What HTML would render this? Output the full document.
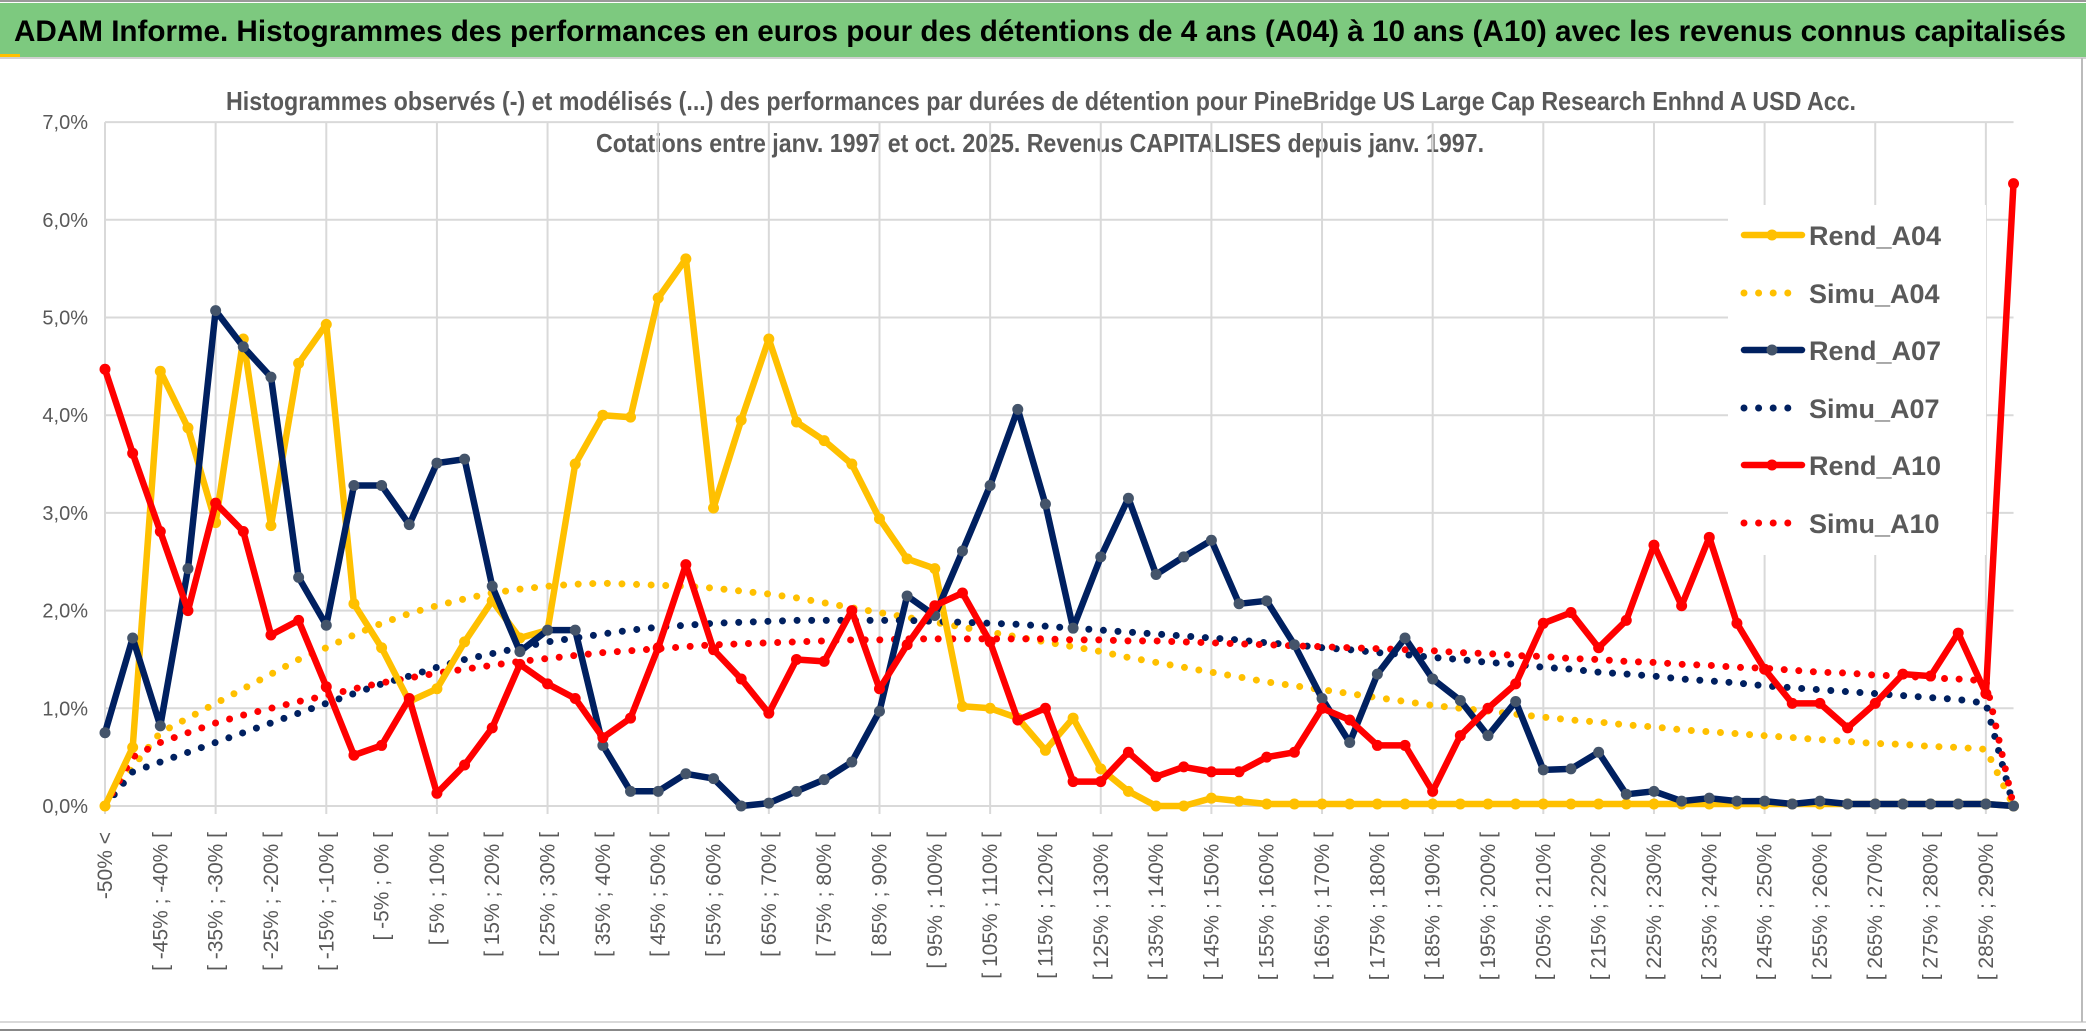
<!DOCTYPE html>
<html><head><meta charset="utf-8"><style>
html,body{margin:0;padding:0;background:#fff;}
svg{display:block;font-family:"Liberation Sans",sans-serif;}
</style></head><body>
<svg id="chart" width="2086" height="1033" viewBox="0 0 2086 1033" xmlns="http://www.w3.org/2000/svg">
<rect x="0" y="0" width="2086" height="1033" fill="#fff"/>
<rect x="0" y="3" width="2086" height="54" fill="#7dc97f"/>
<line x1="0" y1="1" x2="2086" y2="1" stroke="#999" stroke-width="2"/>
<line x1="0" y1="58" x2="2086" y2="58" stroke="#d0d0d0" stroke-width="2"/>
<rect x="0" y="54" width="20" height="3" fill="#ffc000"/>
<text x="14" y="41" font-size="30" font-weight="bold" fill="#000" textLength="2052" lengthAdjust="spacingAndGlyphs">ADAM Informe. Histogrammes des performances en euros pour des détentions de 4 ans (A04) à 10 ans (A10) avec les revenus connus capitalisés</text>
<text x="226" y="110" font-size="26" font-weight="bold" fill="#595959" textLength="1630" lengthAdjust="spacingAndGlyphs">Histogrammes observés (-) et modélisés (...) des performances par durées de détention pour PineBridge US Large Cap Research Enhnd A USD Acc.</text>
<text x="596" y="152" font-size="26" font-weight="bold" fill="#595959" textLength="888" lengthAdjust="spacingAndGlyphs">Cotations entre janv. 1997 et oct. 2025. Revenus CAPITALISES depuis janv. 1997.</text>
<g id="grid"></g>
<g id="axes"></g>
<g id="series"></g>
<g id="legend"></g>
<line x1="0" y1="1022" x2="2086" y2="1022" stroke="#d9d9d9" stroke-width="2"/>
<line x1="0" y1="1030" x2="2086" y2="1030" stroke="#888" stroke-width="2"/>
<line x1="2082" y1="58" x2="2082" y2="1022" stroke="#bbb" stroke-width="2"/>
</svg>
<script>
const catLabels = ["-50% <","[ -50% ; -45% [","[ -45% ; -40% [","[ -40% ; -35% [","[ -35% ; -30% [","[ -30% ; -25% [","[ -25% ; -20% [","[ -20% ; -15% [","[ -15% ; -10% [","[ -10% ; -5% [","[ -5% ; 0% [","[ 0% ; 5% [","[ 5% ; 10% [","[ 10% ; 15% [","[ 15% ; 20% [","[ 20% ; 25% [","[ 25% ; 30% [","[ 30% ; 35% [","[ 35% ; 40% [","[ 40% ; 45% [","[ 45% ; 50% [","[ 50% ; 55% [","[ 55% ; 60% [","[ 60% ; 65% [","[ 65% ; 70% [","[ 70% ; 75% [","[ 75% ; 80% [","[ 80% ; 85% [","[ 85% ; 90% [","[ 90% ; 95% [","[ 95% ; 100% [","[ 100% ; 105% [","[ 105% ; 110% [","[ 110% ; 115% [","[ 115% ; 120% [","[ 120% ; 125% [","[ 125% ; 130% [","[ 130% ; 135% [","[ 135% ; 140% [","[ 140% ; 145% [","[ 145% ; 150% [","[ 150% ; 155% [","[ 155% ; 160% [","[ 160% ; 165% [","[ 165% ; 170% [","[ 170% ; 175% [","[ 175% ; 180% [","[ 180% ; 185% [","[ 185% ; 190% [","[ 190% ; 195% [","[ 195% ; 200% [","[ 200% ; 205% [","[ 205% ; 210% [","[ 210% ; 215% [","[ 215% ; 220% [","[ 220% ; 225% [","[ 225% ; 230% [","[ 230% ; 235% [","[ 235% ; 240% [","[ 240% ; 245% [","[ 245% ; 250% [","[ 250% ; 255% [","[ 255% ; 260% [","[ 260% ; 265% [","[ 265% ; 270% [","[ 270% ; 275% [","[ 275% ; 280% [","[ 280% ; 285% [","[ 285% ; 290% [","> 290%"];
const yTicks = [0,1,2,3,4,5,6,7];
const yTickLabels = ["0,0%","1,0%","2,0%","3,0%","4,0%","5,0%","6,0%","7,0%"];
const rendA04 = [0,0.6,4.45,3.87,2.9,4.78,2.87,4.53,4.93,2.07,1.62,1.07,1.2,1.68,2.1,1.72,1.8,3.5,4.0,3.98,5.2,5.6,3.05,3.95,4.78,3.93,3.74,3.5,2.94,2.53,2.43,1.02,1.0,0.9,0.57,0.9,0.38,0.15,0.0,0.0,0.08,0.05,0.02,0.02,0.02,0.02,0.02,0.02,0.02,0.02,0.02,0.02,0.02,0.02,0.02,0.02,0.02,0.02,0.02,0.02,0.02,0.02,0.02,0.02,0.02,0.02,0.02,0.02,0.02,0.0];
const simuA04 = [0,0.4,0.75,0.9,1.05,1.2,1.35,1.5,1.62,1.75,1.87,1.97,2.05,2.12,2.18,2.22,2.25,2.27,2.28,2.27,2.26,2.25,2.23,2.2,2.17,2.13,2.08,2.03,1.98,1.93,1.88,1.83,1.78,1.73,1.68,1.63,1.58,1.52,1.47,1.42,1.37,1.32,1.27,1.23,1.19,1.15,1.11,1.07,1.03,1.0,0.97,0.94,0.91,0.88,0.86,0.83,0.81,0.78,0.76,0.74,0.72,0.7,0.68,0.66,0.64,0.63,0.61,0.6,0.58,0.0];
const rendA07 = [0.75,1.72,0.82,2.43,5.07,4.7,4.39,2.34,1.85,3.28,3.28,2.88,3.51,3.55,2.25,1.58,1.8,1.8,0.62,0.15,0.15,0.33,0.28,0.0,0.03,0.15,0.27,0.45,0.97,2.15,1.95,2.61,3.28,4.06,3.09,1.82,2.55,3.15,2.37,2.55,2.72,2.07,2.1,1.65,1.1,0.65,1.35,1.72,1.3,1.08,0.72,1.07,0.37,0.38,0.55,0.12,0.15,0.05,0.08,0.05,0.05,0.02,0.05,0.02,0.02,0.02,0.02,0.02,0.02,0.0];
const simuA07 = [0,0.35,0.45,0.55,0.65,0.75,0.85,0.95,1.05,1.15,1.25,1.33,1.42,1.5,1.56,1.62,1.68,1.72,1.76,1.8,1.83,1.85,1.87,1.88,1.89,1.9,1.9,1.9,1.9,1.9,1.89,1.88,1.87,1.86,1.84,1.82,1.8,1.78,1.76,1.74,1.72,1.7,1.67,1.65,1.62,1.6,1.57,1.55,1.52,1.5,1.47,1.45,1.42,1.4,1.37,1.35,1.33,1.3,1.28,1.26,1.23,1.21,1.19,1.17,1.15,1.13,1.11,1.09,1.05,0];
const rendA10 = [4.47,3.61,2.81,2.0,3.1,2.81,1.75,1.9,1.22,0.52,0.62,1.1,0.13,0.42,0.8,1.45,1.25,1.1,0.7,0.9,1.62,2.47,1.6,1.3,0.95,1.5,1.48,2.0,1.2,1.65,2.05,2.18,1.68,0.88,1.0,0.25,0.25,0.55,0.3,0.4,0.35,0.35,0.5,0.55,1.0,0.88,0.62,0.62,0.15,0.72,1.0,1.25,1.87,1.98,1.62,1.9,2.67,2.05,2.75,1.87,1.4,1.05,1.05,0.8,1.05,1.35,1.33,1.77,1.15,6.37];
const simuA10 = [0,0.5,0.65,0.75,0.85,0.93,1.0,1.07,1.13,1.2,1.26,1.31,1.36,1.4,1.44,1.48,1.51,1.54,1.57,1.59,1.61,1.63,1.65,1.66,1.67,1.68,1.69,1.7,1.7,1.71,1.71,1.71,1.71,1.71,1.71,1.7,1.7,1.69,1.69,1.68,1.67,1.66,1.65,1.64,1.63,1.62,1.61,1.6,1.59,1.57,1.56,1.54,1.53,1.51,1.5,1.48,1.47,1.45,1.44,1.42,1.41,1.39,1.37,1.36,1.34,1.33,1.31,1.3,1.28,0];
const seriesNames = ["Rend_A04","Simu_A04","Rend_A07","Simu_A07","Rend_A10","Simu_A10"];

const NS="http://www.w3.org/2000/svg";
const X0=105, STEP=27.66, Y0=806, PER=97.7;
function xPos(i){return X0+i*STEP;}
function yPos(v){return Y0-v*PER;}
function mk(tag,attrs,parent){const e=document.createElementNS(NS,tag);for(const k in attrs)e.setAttribute(k,attrs[k]);parent.appendChild(e);return e;}
const grid=document.getElementById('grid'),axes=document.getElementById('axes'),ser=document.getElementById('series'),leg=document.getElementById('legend');
const nCat=catLabels.length;
const xEnd=xPos(nCat-1);
yTicks.forEach((t,k)=>{
  const l=mk('line',{x1:X0,x2:xEnd,y1:yPos(t),y2:yPos(t),stroke:'#d9d9d9','stroke-width':2},grid);
  
  
  const tx=mk('text',{x:88,y:yPos(t)+7,'font-size':20,fill:'#595959','text-anchor':'end'},axes);
  tx.textContent=yTickLabels[k];
  
  
});
for(let i=0;i<nCat;i+=4){
  const l=mk('line',{x1:xPos(i),x2:xPos(i),y1:yPos(7),y2:Y0+8,stroke:'#d9d9d9','stroke-width':2},grid);
  
  
}
for(let i=0;i<nCat;i+=2){
  const x=xPos(i)+7, y=832;
  const tx=mk('text',{x:x,y:y,'font-size':21,fill:'#595959','text-anchor':'end',transform:`rotate(-90 ${x} ${y})`},axes);
  tx.textContent=catLabels[i];
  
  
}
function pts(arr){return arr.map((v,i)=>xPos(i).toFixed(1)+','+yPos(v).toFixed(1)).join(' ');}
function dotted(arr,color,name){
  const p=mk('polyline',{points:pts(arr),fill:'none',stroke:color,'stroke-width':7,'stroke-linecap':'round','stroke-dasharray':'0 14.6'},ser);
  
  
}
function solid(arr,color,mcolor,name){
  const g=mk('g',{},ser);
  
  
  mk('polyline',{points:pts(arr),fill:'none',stroke:color,'stroke-width':6.5,'stroke-linejoin':'round'},g);
  arr.forEach((v,i)=>{
    const c=mk('circle',{cx:xPos(i),cy:yPos(v),r:5.5,fill:mcolor},g);
    
    
  });
}
dotted(simuA04,'#ffc000','simu-a04-line');
dotted(simuA07,'#002060','simu-a07-line');
dotted(simuA10,'#ff0000','simu-a10-line');
solid(rendA04,'#ffc000','#ffc000','rend-a04-line');
solid(rendA07,'#002060','#44546a','rend-a07-line');
solid(rendA10,'#ff0000','#ff0000','rend-a10-line');
mk('rect',{x:1728,y:205,width:258,height:350,fill:'#fff'},leg);
const legColors=['#ffc000','#ffc000','#002060','#002060','#ff0000','#ff0000'];
const legMarker=['#ffc000',null,'#44546a',null,'#ff0000',null];
const legY=[235,293,350,408,465,523];
seriesNames.forEach((n,k)=>{
  const g=mk('g',{},leg);
  
  
  const y=legY[k];
  if(legMarker[k]){
    mk('line',{x1:1744,x2:1802,y1:y,y2:y,stroke:legColors[k],'stroke-width':6.5,'stroke-linecap':'round'},g);
    mk('circle',{cx:1772,cy:y,r:5.5,fill:legMarker[k]},g);
  } else {
    mk('line',{x1:1744,x2:1802,y1:y,y2:y,stroke:legColors[k],'stroke-width':7,'stroke-linecap':'round','stroke-dasharray':'0 14.6'},g);
  }
  const t=mk('text',{x:1809,y:y+10,'font-size':27,'font-weight':'bold',fill:'#595959'},g);
  t.textContent=n;
});
</script>
</body></html>
